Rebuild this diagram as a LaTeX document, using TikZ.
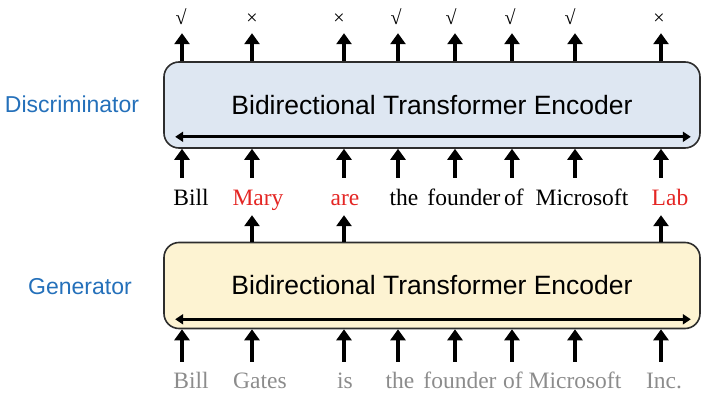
\documentclass[tikz,border=0pt]{standalone}
\usepackage{fontspec}
\setmainfont{Liberation Serif}
\setsansfont{Liberation Sans}
\usetikzlibrary{arrows.meta,positioning}
\definecolor{discblue}{RGB}{222,231,242}
\definecolor{genyellow}{RGB}{253,243,210}
\definecolor{labelblue}{RGB}{36,112,186}
\definecolor{fakered}{RGB}{228,38,36}
\definecolor{realgray}{RGB}{140,140,140}
\definecolor{boxedge}{RGB}{45,45,45}

\tikzset{
  encoder/.style={draw=boxedge, line width=1.6pt, rounded corners=15pt, minimum width=536pt, minimum height=86pt, inner sep=0pt, font=\sffamily\fontsize{26.5}{30}\selectfont},
  role/.style={text=labelblue, inner sep=0pt, font=\sffamily\fontsize{23}{27}\selectfont},
  uparr/.style={-{Triangle[width=15pt,length=11pt]}, line width=3.2pt},
  bidir/.style={{Triangle[width=10pt,length=8pt]}-{Triangle[width=10pt,length=8pt]}, line width=3pt},
  verdict/.style={anchor=base, inner sep=0pt, text depth=8pt, font=\fontsize{20}{24}\selectfont},
  word/.style={anchor=base, inner sep=0pt, text height=28pt, text depth=9pt, font=\fontsize{23.5}{28}\selectfont},
  input/.style={anchor=base, inner sep=0pt, text height=26pt, text depth=5pt, text=realgray, font=\fontsize{23.5}{28}\selectfont}
}

\begin{document}
\begin{tikzpicture}[x=1pt, y=-1pt]
    \useasboundingbox (0,0) rectangle (702,393);

    % Token columns
    \coordinate (c1) at (182,0);
    \coordinate (c2) at (252,0);
    \coordinate (c3) at (344,0);
    \coordinate (c4) at (398,0);
    \coordinate (c5) at (455,0);
    \coordinate (c6) at (512,0);
    \coordinate (c7) at (575,0);
    \coordinate (c8) at (661,0);

    % Discriminator
    \node[encoder, fill=discblue] (disc) at (432,105) {Bidirectional Transformer Encoder};
    \node[role] (dlabel) at (72,104) {Discriminator};
    \draw[bidir] ([xshift=12pt,yshift=12pt]disc.south west) -- ([xshift=-10pt,yshift=12pt]disc.south east);

    % Generator
    \node[encoder, fill=genyellow] (gen) at (432,285.5) {Bidirectional Transformer Encoder};
    \node[role] (glabel) at (80,287) {Generator};
    \draw[bidir] ([xshift=12pt,yshift=10pt]gen.south west) -- ([xshift=-10pt,yshift=10pt]gen.south east);

    % Original / replaced decisions
    \node[verdict] (mk1) at (181,25) {√};
    \node[verdict] (mk2) at (252,25) {×};
    \node[verdict] (mk3) at (339,25) {×};
    \node[verdict] (mk4) at (396,25) {√};
    \node[verdict] (mk5) at (451,25) {√};
    \node[verdict] (mk6) at (510,25) {√};
    \node[verdict] (mk7) at (570,25) {√};
    \node[verdict] (mk8) at (659,25) {×};

    % Corrupted tokens
    \node[word] (w1) at (191,206) {Bill};
    \node[word, text=fakered] (w2) at (258,206) {Mary};
    \node[word, text=fakered] (w3) at (345,206) {are};
    \node[word] (w4) at (404,206) {the};
    \node[word] (w5) at (464,206) {founder};
    \node[word] (w6) at (514,206) {of};
    \node[word] (w7) at (582,206) {Microsoft};
    \node[word, text=fakered] (w8) at (670,206) {Lab};

    % Input tokens
    \node[input] (in1) at (191,388) {Bill};
    \node[input] (in2) at (260,388) {Gates};
    \node[input] (in3) at (345,388) {is};
    \node[input] (in4) at (400,388) {the};
    \node[input] (in5) at (460,388) {founder};
    \node[input] (in6) at (513,388) {of};
    \node[input] (in7) at (575,388) {Microsoft};
    \node[input] (in8) at (664,388) {Inc.};

    % Discriminator outputs
    \draw[uparr] (disc.north -| c1) -- (c1 |- mk1.south);
    \draw[uparr] (disc.north -| c2) -- (c2 |- mk2.south);
    \draw[uparr] (disc.north -| c3) -- (c3 |- mk3.south);
    \draw[uparr] (disc.north -| c4) -- (c4 |- mk4.south);
    \draw[uparr] (disc.north -| c5) -- (c5 |- mk5.south);
    \draw[uparr] (disc.north -| c6) -- (c6 |- mk6.south);
    \draw[uparr] (disc.north -| c7) -- (c7 |- mk7.south);
    \draw[uparr] (disc.north -| c8) -- (c8 |- mk8.south);

    % Discriminator inputs
    \draw[uparr] (c1 |- w1.north) -- (disc.south -| c1);
    \draw[uparr] (c2 |- w2.north) -- (disc.south -| c2);
    \draw[uparr] (c3 |- w3.north) -- (disc.south -| c3);
    \draw[uparr] (c4 |- w4.north) -- (disc.south -| c4);
    \draw[uparr] (c5 |- w5.north) -- (disc.south -| c5);
    \draw[uparr] (c6 |- w6.north) -- (disc.south -| c6);
    \draw[uparr] (c7 |- w7.north) -- (disc.south -| c7);
    \draw[uparr] (c8 |- w8.north) -- (disc.south -| c8);

    % Generator samples
    \draw[uparr] (gen.north -| c2) -- (c2 |- w2.south);
    \draw[uparr] (gen.north -| c3) -- (c3 |- w3.south);
    \draw[uparr] (gen.north -| c8) -- (c8 |- w8.south);

    % Generator inputs
    \draw[uparr] (c1 |- in1.north) -- (gen.south -| c1);
    \draw[uparr] (c2 |- in2.north) -- (gen.south -| c2);
    \draw[uparr] (c3 |- in3.north) -- (gen.south -| c3);
    \draw[uparr] (c4 |- in4.north) -- (gen.south -| c4);
    \draw[uparr] (c5 |- in5.north) -- (gen.south -| c5);
    \draw[uparr] (c6 |- in6.north) -- (gen.south -| c6);
    \draw[uparr] (c7 |- in7.north) -- (gen.south -| c7);
    \draw[uparr] (c8 |- in8.north) -- (gen.south -| c8);
\end{tikzpicture}
\end{document}
